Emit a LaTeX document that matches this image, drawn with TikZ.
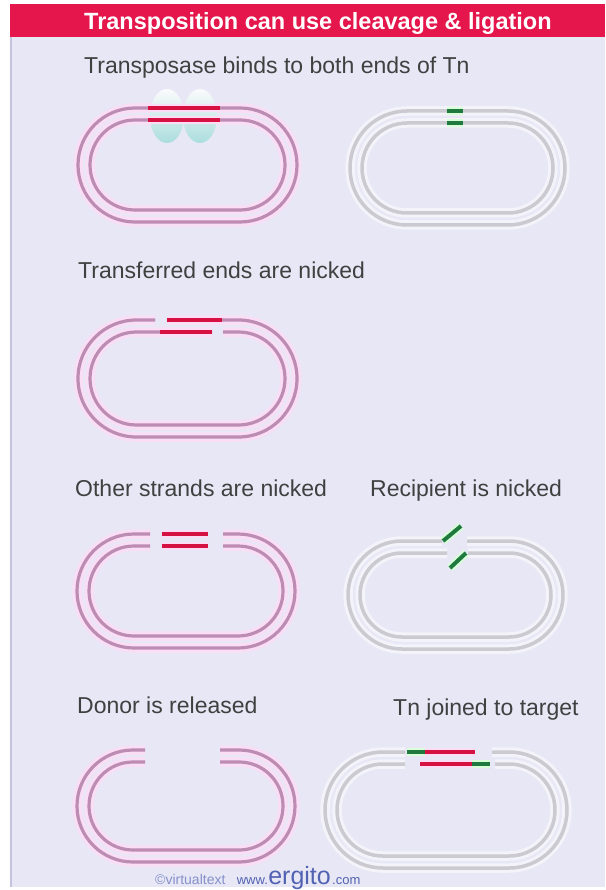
\documentclass[tikz,border=0pt]{standalone}
\usepackage{fontspec}
\setmainfont{Liberation Sans}
\usetikzlibrary{positioning}

\definecolor{bannerred}{RGB}{228,22,76}
\definecolor{panel}{RGB}{231,231,246}
\definecolor{paneledge}{RGB}{196,196,224}
\definecolor{dnamauve}{RGB}{188,140,178}
\definecolor{dnapink}{RGB}{250,222,246}
\definecolor{hostgrey}{RGB}{202,202,208}
\definecolor{hostwhite}{RGB}{243,243,249}
\definecolor{tnred}{RGB}{214,18,66}
\definecolor{tngreen}{RGB}{32,122,64}
\definecolor{captiongrey}{RGB}{64,64,64}
\definecolor{webblue}{RGB}{82,98,178}
\definecolor{enzyme}{RGB}{160,220,216}

\tikzset{
  pinkglow/.style={draw=dnapink, line width=9.5pt},
  pinkline/.style={draw=dnamauve, line width=3.2pt},
  greyglow/.style={draw=hostwhite, line width=9.5pt},
  greyline/.style={draw=hostgrey, line width=3.5pt},
  tnbar/.style={draw=tnred, line width=4.5pt,
    preaction={draw=dnapink, line width=8.5pt}},
  tnend/.style={draw=tngreen, line width=4pt,
    preaction={draw=green!15!white, line width=8pt}},
  caption/.style={anchor=base west, inner sep=0pt, text=captiongrey,
    font=\fontsize{23}{27}\selectfont},
  webtext/.style={inner sep=0pt, text=webblue},
}

% one strand of a loop: style, box L T R B, runs from start x round to end x
\newcommand{\strand}[7]{%
  \pgfmathsetmacro{\bendrad}{((#5)-(#3))/2-0.01}%
  \draw[#1, rounded corners=\bendrad pt]
    (#6,#3) -- (#4,#3) -- (#4,#5) -- (#2,#5) -- (#2,#3) -- (#7,#3);%
}
% a duplex loop: pink|grey, centre line L T R B, outer start/end, inner start/end
\newcommand{\duplex}[9]{%
  \strand{#1glow}{#2-6}{#3-6}{#4+6}{#5+6}{#6}{#7}%
  \strand{#1glow}{#2+6}{#3+6}{#4-6}{#5-6}{#8}{#9}%
  \strand{#1line}{#2-6}{#3-6}{#4+6}{#5+6}{#6}{#7}%
  \strand{#1line}{#2+6}{#3+6}{#4-6}{#5-6}{#8}{#9}%
}

\begin{document}
\begin{tikzpicture}[x=1pt,y=-1pt]
  \useasboundingbox (0,0) rectangle (605,890);
  \fill[white] (0,0) rectangle (605,890);
  \fill[panel] (10,4) rectangle (605,887);
  \draw[paneledge, line width=2pt] (11,4) -- (11,887);
  \fill[bannerred] (10,4) rectangle (605,37);

  \node[anchor=base west, inner sep=0pt, text=white,
        font=\bfseries\fontsize{23.5}{27}\selectfont] (title) at (84,30)
        {Transposition can use cleavage \& ligation};

  % step 1: transposase on the donor, target untouched
  \node[caption] (bind) at (84,74) {Transposase binds to both ends of Tn};
  \duplex{pink}{84}{114}{291}{216}{180}{180}{180}{180}
  \shade[top color=white, bottom color=enzyme, opacity=0.85]
    (167,116) ellipse [x radius=17pt, y radius=27pt];
  \shade[top color=white, bottom color=enzyme, opacity=0.85]
    (200,116) ellipse [x radius=17pt, y radius=27pt];
  \draw[tnbar] (148,108) -- (220,108);
  \draw[tnbar] (148,120) -- (220,120);
  \duplex{grey}{356}{117}{559}{219}{450}{450}{450}{450}
  \draw[tnend] (447,111) -- (463,111);
  \draw[tnend] (447,123) -- (463,123);

  % step 2: nicks at the transferred ends
  \node[caption] (nick) at (78,279) {Transferred ends are nicked};
  \duplex{pink}{84}{326}{291}{431}{167}{155}{223}{212}
  \draw[tnbar] (167,320) -- (222,320);
  \draw[tnbar] (160,332) -- (212,332);

  % step 3: other strands cut, target nicked
  \node[caption] (other) at (75,496) {Other strands are nicked};
  \duplex{pink}{83}{540}{289}{642}{223}{150}{223}{150}
  \draw[tnbar] (162,534) -- (208,534);
  \draw[tnbar] (162,546) -- (208,546);
  \node[caption] (recip) at (370,496) {Recipient is nicked};
  \duplex{grey}{354}{547}{557}{643}{467}{442}{468}{447}
  \draw[tnend] (443,541) -- (461,526);
  \draw[tnend] (450,568) -- (466,553);

  % step 4: donor released, Tn joined
  \node[caption] (donor) at (77,713) {Donor is released};
  \duplex{pink}{83}{756}{289}{856}{220}{145}{220}{145}
  \node[caption] (joined) at (393,715) {Tn joined to target};
  \duplex{grey}{331}{758}{561}{862}{492}{405}{495}{405}
  \draw[tnend] (407,752) -- (426,752);
  \draw[tnbar] (425,752) -- (475,752);
  \draw[tnbar] (420,764) -- (473,764);
  \draw[tnend] (472,764) -- (490,764);

  % credit line
  \node[webtext, anchor=base west, font=\fontsize{14}{16}\selectfont,
        text=webblue!70] (credit) at (155,884) {\textcopyright virtualtext};
  \node[webtext, base right=11pt of credit, font=\fontsize{13}{15}\selectfont] (www) {www.};
  \node[webtext, base right=0pt of www, font=\fontsize{25}{28}\selectfont] (ergito) {ergito};
  \node[webtext, base right=1pt of ergito, font=\fontsize{13}{15}\selectfont] (dotcom) {.com};
\end{tikzpicture}
\end{document}
